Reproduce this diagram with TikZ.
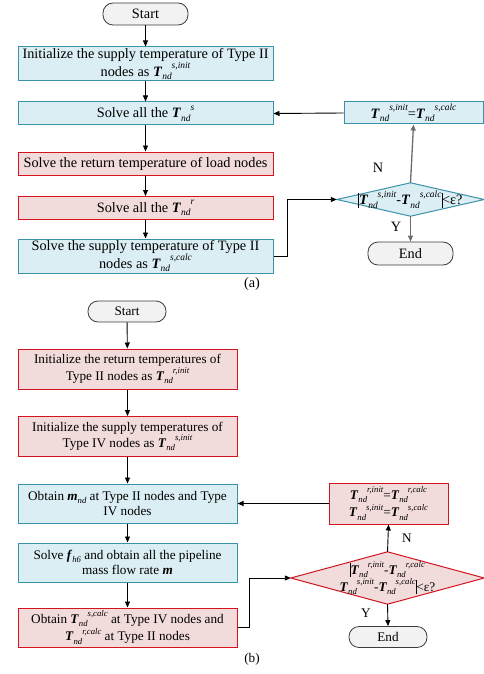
\documentclass[tikz,border=0pt]{standalone}
\usepackage{fontspec}
\usepackage{graphicx}
\setmainfont{Liberation Serif}
\usetikzlibrary{arrows.meta}
\definecolor{bfill}{RGB}{218,238,243}
\definecolor{bline}{RGB}{60,145,170}
\definecolor{rfill}{RGB}{242,220,219}
\definecolor{rline}{RGB}{210,20,30}
\definecolor{tfill}{RGB}{242,242,242}
\definecolor{tline}{RGB}{60,60,60}
\newcommand\subx[1]{\raisebox{-0.25em}{\scalebox{0.66}{\itshape #1}}}
\newcommand\supx[1]{\raisebox{0.52em}{\scalebox{0.66}{\itshape #1}}}
\newcommand\TT[1]{\textbf{\textit{T}}\subx{nd}\supx{#1}}
\newcommand\MM{\textbf{\textit{m}}\subx{nd}}
\newcommand\FF{\textbf{\textit{f}}\subx{h6}}
\newcommand\absbar{\raisebox{-0.2em}{\rule{0.6pt}{1.05em}}}
\begin{document}
\begin{tikzpicture}[x=1pt,y=-1pt,
  box/.style={rectangle,draw,line width=1pt,inner sep=0pt,align=center},
  bluebox/.style={box,fill=bfill,draw=bline},
  redbox/.style={box,fill=rfill,draw=rline},
  term/.style={rectangle,rounded corners=10pt,draw=tline,fill=tfill,line width=0.8pt,inner sep=0pt},
  fa/.style={font=\fontsize{14.3}{16.5}\selectfont},
  fb/.style={font=\fontsize{13.2}{15}\selectfont},
  conn/.style={line width=0.9pt,-{Triangle[length=6pt,width=5pt]}},
  gconn/.style={line width=1.3pt,draw=gray!85!black,-{Triangle[length=6pt,width=5pt]}},
  lbl/.style={inner sep=0pt}
]
\useasboundingbox (0,0) rectangle (484,674);
% ---------- (a) ----------
\node[term,fa,minimum width=85pt,minimum height=22pt] (sa) at (145.5,14) {Start};
\node[bluebox,fa,minimum width=255pt,minimum height=34pt] (a1) at (145.5,64)
  {Initialize the supply temperature of Type II\\nodes as \TT{s,init}};
\node[bluebox,fa,minimum width=255pt,minimum height=23pt] (a2) at (145.5,113.5)
  {Solve all the \TT{s}};
\node[redbox,fa,minimum width=255pt,minimum height=23pt] (a3) at (145.5,163.5)
  {Solve the return temperature of load nodes};
\node[redbox,fa,minimum width=255pt,minimum height=23pt] (a4) at (145.5,208)
  {Solve all the \TT{r}};
\node[bluebox,fa,minimum width=255pt,minimum height=34pt] (a5) at (145.5,256)
  {Solve the supply temperature of Type II\\nodes as \TT{s,calc}};
\node[lbl,fa] (la) at (252,284) {(a)};
\node[bluebox,fa,minimum width=139pt,minimum height=22pt] (ra) at (413.5,113)
  {\TT{s,init}=\TT{s,calc}};
\node[minimum width=147pt,minimum height=33pt,inner sep=0pt] (da) at (410.5,199.5) {};
\draw[fill=bfill,draw=bline,line width=1pt] (da.north) -- (da.east) -- (da.south) -- (da.west) -- cycle;
\node[lbl,fa] at (da.center) {\absbar\TT{s,init}-\TT{s,calc}\absbar{}<ε?};
\node[term,fa,minimum width=85pt,minimum height=23pt] (ea) at (410.5,253.5) {End};
\node[lbl,fa] (na) at (378,168) {N};
\node[lbl,fa] (ya) at (396,227) {Y};
\coordinate (ka1) at (287,256);
\coordinate (ka2) at (287,199.5);
\draw[conn] (sa) -- (a1);
\draw[conn] (a1) -- (a2);
\draw[conn] (a2) -- (a3);
\draw[conn] (a3) -- (a4);
\draw[conn] (a4) -- (a5);
\draw[conn] (a5.east) -- (ka1) -- (ka2) -- (da.west);
\draw[gconn] (da.north) -- (ra.south);
\draw[gconn] (da.south) -- (ea.north);
\draw[conn] (ra.west) -- (a2.east);
% ---------- (b) ----------
\node[term,fb,minimum width=78pt,minimum height=21pt] (sb) at (127,311.5) {Start};
\node[redbox,fb,minimum width=219pt,minimum height=40pt] (b1) at (127.5,369)
  {Initialize the return temperatures of\\Type II nodes as \TT{r,init}};
\node[redbox,fb,minimum width=219pt,minimum height=40pt] (b2) at (127.5,436.5)
  {Initialize the supply temperatures of\\Type IV nodes as \TT{s,init}};
\node[bluebox,fb,minimum width=219pt,minimum height=39pt] (b3) at (127.5,503.5)
  {Obtain \MM{} at Type II nodes and Type\\IV nodes};
\node[bluebox,fb,minimum width=219pt,minimum height=39pt] (b4) at (127.5,562.5)
  {Solve \FF{} and obtain all the pipeline\\mass flow rate \textbf{\textit{m}}};
\node[redbox,fb,minimum width=219pt,minimum height=39pt] (b5) at (127.5,627.5)
  {Obtain \TT{s,calc} at Type IV nodes and\\\TT{r,calc} at Type II nodes};
\node[lbl,fb] (lb) at (252,659) {(b)};
\node[redbox,fb,minimum width=119pt,minimum height=41pt] (rb) at (388.5,503.5)
  {\TT{r,init}=\TT{r,calc}\\\TT{s,init}=\TT{s,calc}};
\node[minimum width=193pt,minimum height=52pt,inner sep=0pt] (db) at (387.5,578) {};
\draw[fill=rfill,draw=rline,line width=1pt] (db.north) -- (db.east) -- (db.south) -- (db.west) -- cycle;
\node[lbl,fb,align=center] at (db.center) {\absbar\TT{r,init}-\TT{r,calc}\\\TT{s,init}-\TT{s,calc}\absbar{}<ε?};
\node[term,fb,minimum width=78pt,minimum height=21pt] (eb) at (388,637) {End};
\node[lbl,fb] (nb) at (407,538) {N};
\node[lbl,fb] (yb) at (366,613) {Y};
\coordinate (kb1) at (249,627.5);
\coordinate (kb2) at (249,578);
\draw[conn] (sb) -- (b1);
\draw[conn] (b1) -- (b2);
\draw[conn] (b2) -- (b3);
\draw[conn] (b3) -- (b4);
\draw[conn] (b4) -- (b5);
\draw[conn] (b5.east) -- (kb1) -- (kb2) -- (db.west);
\draw[conn] (db.north) -- (rb.south);
\draw[conn] (db.south) -- (eb.north);
\draw[conn] (rb.west) -- (b3.east);
\end{tikzpicture}
\end{document}
